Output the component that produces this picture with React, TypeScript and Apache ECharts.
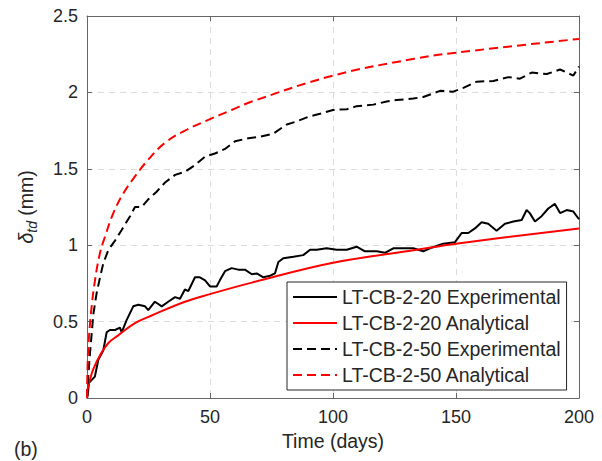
import React, { useEffect, useRef } from "react";
import * as echarts from "echarts";

const FONT = "'Liberation Sans', Arial, Helvetica, sans-serif";

// LT-CB-2-20 Experimental (black solid)
const exp20Days = [0, 0.3, 0.8, 3.2, 4.6, 6.6, 8, 9.3, 11.4, 13.4, 14.1, 16.1, 18.8, 20.9, 23.6, 24.9, 27.6, 30.4, 33, 35.8, 37.8, 39.8, 41.2, 43.9, 45.9, 48, 50, 52.7, 54, 56.1, 58.8, 61.5, 64.2, 67, 69, 71.7, 74.4, 76.4, 77.8, 79.8, 83.9, 87.9, 90.7, 93.4, 97.4, 101.5, 105.6, 109.6, 113, 117.8, 121.1, 124.5, 128.6, 132.6, 136.7, 139.4, 144.8, 149.6, 152.3, 155, 157.7, 160.4, 163.1, 166.5, 169.9, 173.3, 176.7, 178.7, 180, 182.1, 184.8, 187.5, 190.2, 192.3, 195, 197.7, 200];
const exp20Vals = [0, 0.02, 0.1, 0.14, 0.25, 0.31, 0.43, 0.445, 0.445, 0.46, 0.43, 0.51, 0.6, 0.61, 0.6, 0.575, 0.63, 0.6, 0.63, 0.66, 0.65, 0.71, 0.7, 0.79, 0.79, 0.77, 0.73, 0.73, 0.77, 0.83, 0.85, 0.84, 0.84, 0.81, 0.815, 0.79, 0.8, 0.815, 0.89, 0.915, 0.925, 0.935, 0.97, 0.97, 0.98, 0.97, 0.97, 0.99, 0.96, 0.96, 0.95, 0.98, 0.98, 0.98, 0.96, 0.98, 1.01, 1.02, 1.08, 1.08, 1.11, 1.15, 1.14, 1.095, 1.14, 1.155, 1.165, 1.23, 1.21, 1.155, 1.19, 1.24, 1.27, 1.21, 1.23, 1.22, 1.17];

// LT-CB-2-20 Analytical (red solid)
const ana20Days = [0, 0.3, 1.2, 2.6, 5.3, 8.7, 12.7, 19.5, 26.3, 39.8, 50, 67, 100, 134, 150, 200];
const ana20Vals = [0, 0.06, 0.12, 0.19, 0.28, 0.36, 0.41, 0.49, 0.54, 0.63, 0.68, 0.755, 0.885, 0.97, 1.01, 1.11];

// LT-CB-2-50 Experimental (black dashed)
const exp50Days = [0, 0.5, 1.2, 1.9, 2.6, 3.9, 5.3, 6.6, 8.7, 11.4, 14.1, 17.5, 19.5, 22.2, 24.9, 28.3, 31.7, 35.8, 39.8, 43.9, 48, 52, 56.1, 60.2, 65.6, 70.3, 75.7, 81.2, 85.2, 90, 94.7, 100, 105.6, 109.6, 116.4, 121.8, 125.9, 132.6, 136.7, 143.5, 148.9, 153, 158.4, 165.2, 171.3, 176, 180.8, 186.9, 192.3, 197.7, 200];
const exp50Vals = [0, 0.14, 0.29, 0.42, 0.55, 0.685, 0.79, 0.88, 0.97, 1.03, 1.1, 1.19, 1.25, 1.25, 1.3, 1.35, 1.41, 1.46, 1.48, 1.525, 1.58, 1.6, 1.63, 1.68, 1.7, 1.71, 1.73, 1.79, 1.81, 1.84, 1.86, 1.885, 1.89, 1.91, 1.92, 1.94, 1.95, 1.96, 1.97, 2.01, 2.005, 2.03, 2.07, 2.075, 2.1, 2.09, 2.13, 2.12, 2.15, 2.11, 2.17];

// LT-CB-2-50 Analytical (red dashed)
const ana50Days = [0, 0.3, 0.8, 1.9, 3.25, 5.3, 7.3, 10.7, 14.8, 19.5, 24.9, 31.7, 39.8, 49.3, 58.8, 67, 100, 133, 150, 200];
const ana50Vals = [0, 0.25, 0.4, 0.6, 0.77, 0.95, 1.055, 1.21, 1.34, 1.45, 1.56, 1.67, 1.75, 1.82, 1.885, 1.94, 2.11, 2.22, 2.26, 2.35];

const seriesNames = [
  "LT-CB-2-20 Experimental",
  "LT-CB-2-20 Analytical",
  "LT-CB-2-50 Experimental",
  "LT-CB-2-50 Analytical",
];

const xTicks = { min: 0, max: 200, interval: 50 };
const yTicks = { min: 0, max: 2.5, interval: 0.5 };

const zip = (xs: number[], ys: number[]) => xs.map((x, i) => [x, ys[i]]);

export default function App() {
  const ref = useRef<HTMLDivElement>(null);
  useEffect(() => {
    if (!ref.current) return;
    const chart = echarts.init(ref.current, null, { renderer: "svg" });
    const axisColor = "#666666";
    const textColor = "#262626";
    const gridLine = { show: true, lineStyle: { color: "#dcdcdc", type: [6, 5] as any, width: 1 } };
    const mkSeries = (name: string, data: number[][], color: string, dashed: boolean, smooth: boolean | number) => ({
      name,
      type: "line",
      data,
      symbol: "none",
      showSymbol: false,
      smooth,
      xAxisIndex: 0,
      yAxisIndex: 0,
      lineStyle: { color, width: 2, type: dashed ? ([9, 5] as any) : "solid" },
      itemStyle: { color },
      z: 3,
    });
    chart.setOption({
      animation: false,
      backgroundColor: "#ffffff",
      textStyle: { fontFamily: FONT },
      grid: { left: 87, right: 23, top: 16, bottom: 63, containLabel: false },
      xAxis: [
        {
          type: "value",
          position: "bottom",
          ...xTicks,
          axisLine: { show: true, onZero: false, lineStyle: { color: axisColor, width: 1 } },
          axisTick: { show: true, inside: true, length: 5, lineStyle: { color: axisColor } },
          axisLabel: { fontSize: 18, color: textColor, margin: 10, fontFamily: FONT },
          splitLine: gridLine,
          name: "Time (days)",
          nameLocation: "middle",
          nameGap: 31,
          nameTextStyle: { fontSize: 19.5, color: textColor, fontFamily: FONT },
        },
        {
          type: "value",
          position: "top",
          ...xTicks,
          axisLine: { show: true, onZero: false, lineStyle: { color: axisColor, width: 1 } },
          axisTick: { show: true, inside: true, length: 5, lineStyle: { color: axisColor } },
          axisLabel: { show: false },
          splitLine: { show: false },
        },
      ],
      yAxis: [
        {
          type: "value",
          position: "left",
          ...yTicks,
          axisLine: { show: true, onZero: false, lineStyle: { color: axisColor, width: 1 } },
          axisTick: { show: true, inside: true, length: 5, lineStyle: { color: axisColor } },
          axisLabel: { fontSize: 18, color: textColor, margin: 9, fontFamily: FONT },
          splitLine: gridLine,
          name: "{a|δ}{b|td}{c| (mm)}",
          nameLocation: "middle",
          nameGap: 48,
          nameRotate: 90,
          nameTextStyle: {
            color: textColor,
            fontFamily: FONT,
            rich: {
              a: { fontSize: 20, fontStyle: "italic", color: textColor, fontFamily: FONT, verticalAlign: "top" },
              b: { fontSize: 14, fontStyle: "italic", color: textColor, fontFamily: FONT, verticalAlign: "bottom", padding: [9, 0, 0, 0] },
              c: { fontSize: 19.5, color: textColor, fontFamily: FONT, verticalAlign: "top" },
            },
          },
        },
        {
          type: "value",
          position: "right",
          ...yTicks,
          axisLine: { show: true, onZero: false, lineStyle: { color: axisColor, width: 1 } },
          axisTick: { show: true, inside: true, length: 5, lineStyle: { color: axisColor } },
          axisLabel: { show: false },
          splitLine: { show: false },
        },
      ],
      legend: {
        data: seriesNames,
        orient: "vertical",
        left: 287,
        top: 282,
        padding: [5, 6, 5, 5],
        itemWidth: 44,
        itemHeight: 14,
        itemGap: 6,
        borderColor: "#262626",
        borderWidth: 1,
        backgroundColor: "#ffffff",
        itemStyle: { opacity: 0 },
        textStyle: { fontSize: 19.5, color: textColor, fontFamily: FONT },
        z: 10,
      },
      graphic: [
        {
          type: "text",
          left: 14,
          top: 439,
          style: { text: "(b)", fontSize: 19.5, fill: textColor, fontFamily: FONT },
        },
      ],
      series: [
        mkSeries(seriesNames[0], zip(exp20Days, exp20Vals), "#000000", false, false),
        mkSeries(seriesNames[1], zip(ana20Days, ana20Vals), "#ff0000", false, 0.4),
        mkSeries(seriesNames[2], zip(exp50Days, exp50Vals), "#000000", true, false),
        mkSeries(seriesNames[3], zip(ana50Days, ana50Vals), "#ff0000", true, 0.4),
      ],
    });
    return () => chart.dispose();
  }, []);
  return (
    <div
      ref={ref}
      style={{ position: "fixed", left: 0, top: 0, width: 602, height: 461, background: "#fff" }}
    />
  );
}
